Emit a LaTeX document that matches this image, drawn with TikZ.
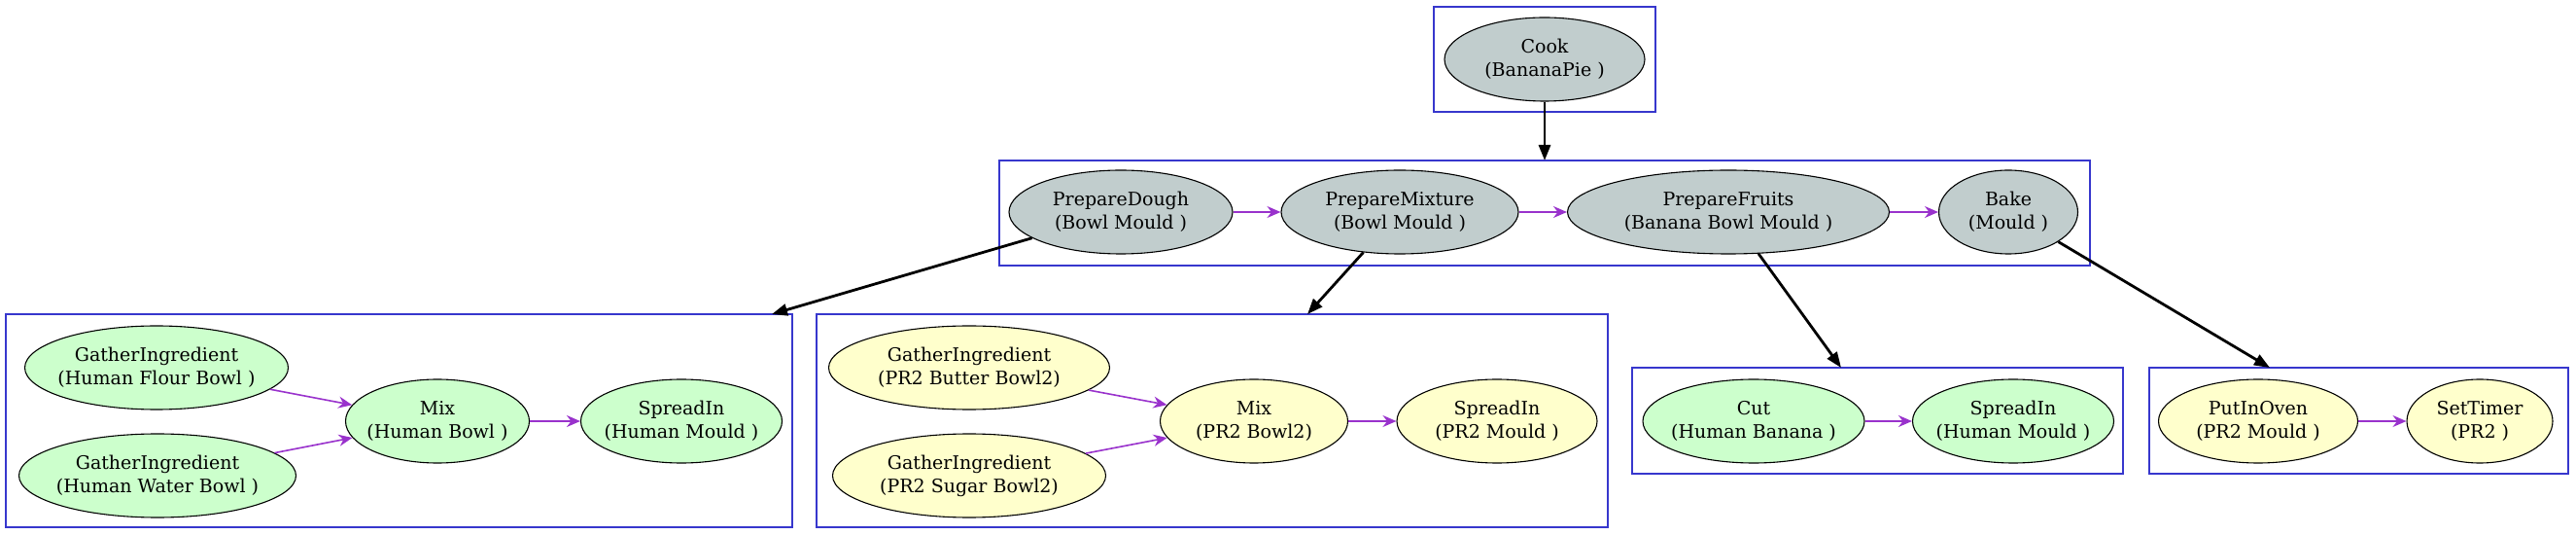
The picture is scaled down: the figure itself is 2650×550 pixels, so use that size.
\documentclass[tikz,border=0pt]{standalone}
\usepackage{fontspec}
\setmainfont{DejaVu Serif}
\usepackage{tikz}
\usetikzlibrary{arrows.meta, shapes.geometric, positioning}
\definecolor{absgray}{RGB}{193,205,205}
\definecolor{humgreen}{RGB}{204,255,204}
\definecolor{robyellow}{RGB}{255,255,204}
\definecolor{flowpurple}{RGB}{153,50,204}
\definecolor{clusblue}{RGB}{55,55,205}

\begin{document}
\begin{tikzpicture}[x=0.5pt,y=-0.5pt,
task/.style={ellipse,draw,line width=0.55pt,align=center,inner sep=0pt,inner xsep=-6pt,
  minimum height=43pt,font=\fontsize{9.5}{12}\selectfont},
abs/.style={task,fill=absgray},
hum/.style={task,fill=humgreen},
rob/.style={task,fill=robyellow},
clus/.style={rectangle,draw=clusblue,line width=0.8pt,inner sep=0pt},
flow/.style={draw=flowpurple,line width=0.8pt,-{Stealth[length=7pt,width=6pt]}},
down/.style={draw,line width=1.4pt,-{Triangle[length=8pt,width=6pt]}}]
 \useasboundingbox (0,0) rectangle (2650,550);
 % clusters
 \node[clus,minimum width=114pt,minimum height=54pt] (ccook) at (1589,61) {};
 \node[clus,minimum width=561pt,minimum height=54pt] (ctop) at (1589,219) {};
 \node[clus,minimum width=404.5pt,minimum height=109.5pt] (cA) at (410.5,432.5) {};
 \node[clus,minimum width=407pt,minimum height=109.5pt] (cB) at (1247,432.5) {};
 \node[clus,minimum width=252.5pt,minimum height=54.5pt] (cC) at (1931.5,432.5) {};
 \node[clus,minimum width=215.5pt,minimum height=54.5pt] (cD) at (2426.5,432.5) {};
 % top levels
 \node[abs,minimum width=103pt] (cook) at (1589,61) {Cook\\(BananaPie )};
 \node[abs,minimum width=115pt] (dough) at (1153,218) {PrepareDough\\(Bowl Mould )};
 \node[abs,minimum width=122pt] (mixture) at (1440,218) {PrepareMixture\\(Bowl Mould )};
 \node[abs,minimum width=165.5pt] (fruits) at (1778,218) {PrepareFruits\\(Banana Bowl Mould )};
 \node[abs,minimum width=71.5pt] (bake) at (2066,218) {Bake\\(Mould )};
 % human dough
 \node[hum,minimum width=135.5pt] (flour) at (161,378) {GatherIngredient\\(Human Flour Bowl )};
 \node[hum,minimum width=142.5pt] (water) at (162,489) {GatherIngredient\\(Human Water Bowl )};
 \node[hum,minimum width=94.5pt] (mixA) at (450,433) {Mix\\(Human Bowl )};
 \node[hum,minimum width=103.5pt] (spreadA) at (701,433) {SpreadIn\\(Human Mould )};
 % robot mixture
 \node[rob,minimum width=144.5pt] (butter) at (997,378) {GatherIngredient\\(PR2 Butter Bowl2)};
 \node[rob,minimum width=140.5pt] (sugar) at (997,489) {GatherIngredient\\(PR2 Sugar Bowl2)};
 \node[rob,minimum width=96.5pt] (mixB) at (1290,433) {Mix\\(PR2 Bowl2)};
 \node[rob,minimum width=103pt] (spreadB) at (1540,433) {SpreadIn\\(PR2 Mould )};
 % fruits and bake
 \node[hum,minimum width=114pt] (cut) at (1804,433) {Cut\\(Human Banana )};
 \node[hum,minimum width=103.5pt] (spreadC) at (2071,433) {SpreadIn\\(Human Mould )};
 \node[rob,minimum width=102.5pt] (oven) at (2323,433) {PutInOven\\(PR2 Mould )};
 \node[rob,minimum width=75pt] (timer) at (2551,433) {SetTimer\\(PR2 )};
 % entry points on the clusters
 \coordinate (intop) at (1589,165);
 \coordinate (inA) at (794,323);
 \coordinate (inB) at (1345,323);
 \coordinate (inC) at (1894,378);
 \coordinate (inD) at (2335,378);
 \foreach \a/\b in {dough/mixture,mixture/fruits,fruits/bake,flour/mixA,water/mixA,mixA/spreadA,
   butter/mixB,sugar/mixB,mixB/spreadB,cut/spreadC,oven/timer}
   \draw[flow] (\a) -- (\b);
 \foreach \a/\b in {cook/intop,dough/inA,mixture/inB,fruits/inC,bake/inD}
   \draw[down] (\a) -- (\b);
\end{tikzpicture}
\end{document}
